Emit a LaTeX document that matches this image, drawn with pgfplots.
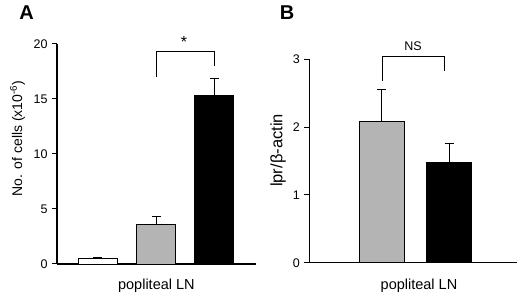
\documentclass[border=0pt]{standalone}
\usepackage{pgfplots}
\pgfplotsset{compat=1.18}
\usepackage{fontspec}
\setmainfont{Liberation Sans}
\definecolor{bargray}{RGB}{180,180,180}
\begin{document}
\begin{tikzpicture}[x=1pt,y=1pt]
\path[use as bounding box] (0pt,0pt) rectangle (520pt,294pt);
\pgfplotsset{
  myaxis/.style={
    scale only axis, anchor=south west,
    axis lines*=left, clip=false,
    axis line style={black, line width=1.1pt},
    xtick=\empty,
    tick align=outside, major tick length=5pt,
    tick style={black, line width=1pt},
    ymin=0,
    /pgf/number format/assume math mode=true,
    tick label style={font=\fontsize{12.5}{13}\selectfont},
    yticklabel style={xshift=-1pt},
  },
  mybar/.style={ybar, bar shift=0pt, draw=black, line width=0.8pt,
    error bars/y dir=plus, error bars/y explicit, error bars/error mark=|,
    error bars/error bar style={line width=1.1pt, black},
    error bars/error mark options={line width=1.1pt, mark size=4.5pt, black}},
}
% Panel A
\begin{axis}[myaxis, at={(57pt,30pt)}, width=198.7pt, height=220pt,
  xmin=-0.70, xmax=2.71, ymax=20, ytick={0,5,10,15,20}]
\addplot[mybar, bar width=0.67, fill=white] coordinates {(0,0.52) +- (0,0.08)};
\addplot[mybar, bar width=0.67, fill=bargray] coordinates {(1,3.6) +- (0,0.75)};
\addplot[mybar, bar width=0.67, fill=black] coordinates {(2,15.36) +- (0,1.5)};
\draw[line width=0.9pt] (axis cs:1.0,17.03) -- (axis cs:1.0,19.3) -- (axis cs:2.0,19.3) -- (axis cs:2.0,18.0);
\node[font=\fontsize{16}{16}\selectfont] at (axis cs:1.48,20.2) {*};
\end{axis}
% Panel B
\begin{axis}[myaxis, at={(309.3pt,31.3pt)}, width=207.7pt, height=203.4pt,
  xmin=-1.073, xmax=2.004, ymax=3, ytick={0,1,2,3}]
\addplot[mybar, bar width=0.667, fill=bargray] coordinates {(0,2.09) +- (0,0.46)};
\addplot[mybar, bar width=0.667, fill=black] coordinates {(1,1.485) +- (0,0.275)};
\draw[line width=0.9pt] (axis cs:0.015,2.68) -- (axis cs:0.015,3.04) -- (axis cs:0.925,3.04) -- (axis cs:0.925,2.83);
\node[font=\fontsize{12.5}{13}\selectfont] at (axis cs:0.465,3.2) {NS};
\end{axis}
% Text
\node[font=\fontsize{20}{20}\selectfont\bfseries] at (26.7pt,281pt) {A};
\node[font=\fontsize{20}{20}\selectfont\bfseries] at (287pt,281pt) {B};
\node[rotate=90, font=\fontsize{14}{14}\selectfont] at (17.5pt,155.5pt) {No. of cells (x10\textsuperscript{-6})};
\node[rotate=90, font=\fontsize{16.5}{16.5}\selectfont] at (278pt,143.5pt) {lpr/β-actin};
\node[anchor=base, font=\fontsize{14.5}{14.5}\selectfont] at (156.4pt,4.7pt) {popliteal LN};
\node[anchor=base, font=\fontsize{14.5}{14.5}\selectfont] at (419pt,4.7pt) {popliteal LN};
\end{tikzpicture}
\end{document}
